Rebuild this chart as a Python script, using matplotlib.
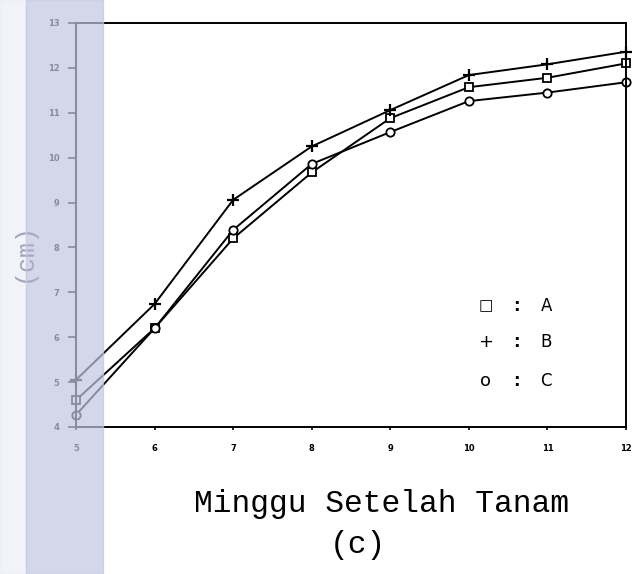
import matplotlib
matplotlib.use('Agg')
import matplotlib.pyplot as plt
from matplotlib.patches import Rectangle

# weeks after planting
weeks = [5, 6, 7, 8, 9, 10, 11, 12]
# plant height (cm) per treatment
height_A = [4.6, 6.2, 8.2, 9.67, 10.88, 11.57, 11.78, 12.1]
height_B = [5.05, 6.74, 9.06, 10.25, 11.06, 11.84, 12.08, 12.36]
height_C = [4.27, 6.2, 8.39, 9.86, 10.57, 11.26, 11.45, 11.68]
yticks = [4, 5, 6, 7, 8, 9, 10, 11, 12, 13]

fig = plt.figure(figsize=(6.35, 5.74), dpi=100)
ax = fig.add_axes([76 / 635, 1 - 427 / 574, 550 / 635, 404 / 574])

ax.plot(weeks, height_A, '-', color='black', lw=1.4, marker='s', ms=6,
        mfc='white', mec='black', mew=1.3, clip_on=False)
ax.plot(weeks, height_B, '-', color='black', lw=1.4, marker='+', ms=9,
        mew=1.6, clip_on=False)
ax.plot(weeks, height_C, '-', color='black', lw=1.4, marker='o', ms=6,
        mfc='white', mec='black', mew=1.3, clip_on=False)

ax.set_xlim(5, 12)
ax.set_ylim(4, 13)
ax.set_xticks(weeks)
ax.set_yticks(yticks)
ax.tick_params(axis='y', direction='out', length=6, width=1.2, labelsize=6, pad=6)
ax.tick_params(axis='x', direction='out', length=2, width=1.2, labelsize=6, pad=10)
for lbl in ax.get_xticklabels() + ax.get_yticklabels():
    lbl.set_fontweight('bold')
for s in ax.spines.values():
    s.set_linewidth(1.4)

# hand-made key (axes fraction positions)
mono = 'Liberation Mono'
keys = [('\u25a1', 'A', 0.30), ('+', 'B', 0.21), ('o', 'C', 0.115)]
for sym, lab, yy in keys:
    ax.text(0.745, yy, sym, transform=ax.transAxes, ha='center', va='center',
            fontsize=13 if sym != '\u25a1' else 11, family='DejaVu Sans')
    ax.text(0.80, yy, ':', transform=ax.transAxes, ha='center', va='center',
            fontsize=12, fontweight='bold')
    ax.text(0.855, yy, lab, transform=ax.transAxes, ha='center', va='center',
            fontsize=12)

fig.text(24 / 635, 1 - 252 / 574, '(cm)', rotation=90, ha='center', va='center',
         fontsize=18, family=mono, color='#5e6280')
fig.text(382 / 635, 1 - 504 / 574, 'Minggu Setelah Tanam', ha='center',
         va='center', fontsize=22.5, family=mono)
fig.text(358 / 635, 1 - 545 / 574, '(c)', ha='center', va='center',
         fontsize=22.5, family=mono)

# scanner shading on the left edge
fig.patches.append(Rectangle((0, 0), 26 / 635, 1, transform=fig.transFigure,
                             color='#e6e8f3', alpha=0.5, zorder=10))
fig.patches.append(Rectangle((26 / 635, 0), 77 / 635, 1, transform=fig.transFigure,
                             color='#c2c6e0', alpha=0.7, zorder=10))

fig.savefig('out.png', dpi=100)
